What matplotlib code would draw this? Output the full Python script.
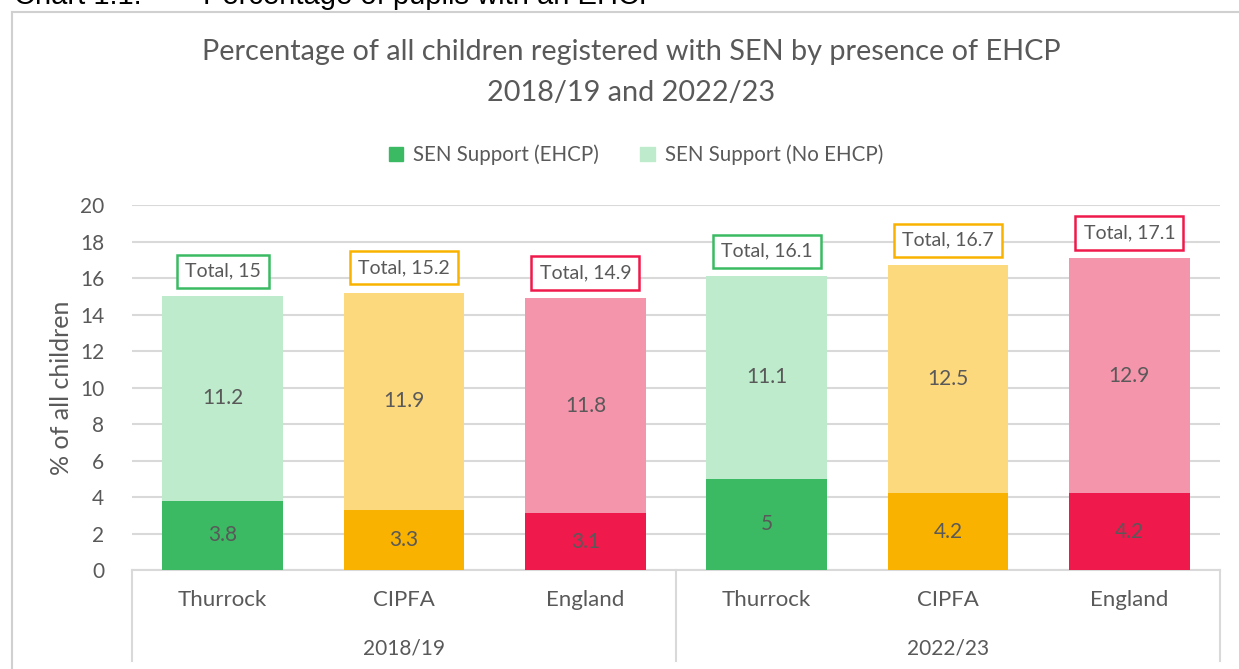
import matplotlib.pyplot as plt
from matplotlib.patches import Rectangle
from matplotlib.lines import Line2D

# data
areas = ['Thurrock', 'CIPFA', 'England', 'Thurrock', 'CIPFA', 'England']
years = ['2018/19', '2022/23']
ehcp = [3.8, 3.3, 3.1, 5, 4.2, 4.2]
no_ehcp = [11.2, 11.9, 11.8, 11.1, 12.5, 12.9]
totals = ['15', '15.2', '14.9', '16.1', '16.7', '17.1']

dark = ['#3BBA63', '#F9B200', '#EF1A4B'] * 2
light = ['#BDEBCB', '#FDD97E', '#F595AC'] * 2
txt = '#595959'
grid_c = '#D9D9D9'

plt.rcParams['font.family'] = ['Lato', 'DejaVu Sans']

fig = plt.figure(figsize=(12.39, 6.69), dpi=100)
ax = fig.add_axes([132 / 1239, 1 - 570 / 669, 1088 / 1239, 365 / 669])

x = list(range(len(areas)))
w = 0.667
ax.bar(x, ehcp, width=w, color=dark, zorder=3)
ax.bar(x, no_ehcp, width=w, bottom=ehcp, color=light, zorder=3)

for i in x:
    ax.text(i, ehcp[i] / 2, f'{ehcp[i]:g}', ha='center', va='center',
            fontsize=15, color=txt, zorder=4)
    ax.text(i, ehcp[i] + no_ehcp[i] / 2, f'{no_ehcp[i]:g}', ha='center',
            va='center', fontsize=15, color=txt, zorder=4)
    top = ehcp[i] + no_ehcp[i]
    ax.annotate(f'Total, {totals[i]}', (i, top), xytext=(0, 18),
                textcoords='offset points', ha='center', va='center',
                fontsize=14, color=txt, zorder=5,
                bbox=dict(boxstyle='square,pad=0.42', fc='white',
                          ec=dark[i], lw=1.8))

ax.set_xlim(-0.5, 5.5)
ax.set_ylim(0, 20)
ax.set_yticks(range(0, 21, 2))
ax.tick_params(axis='y', length=0, labelsize=15, labelcolor=txt, pad=20)
ax.set_xticks([])
ax.grid(axis='y', color=grid_c, lw=1.5, zorder=0)
for s in ['top', 'right', 'left']:
    ax.spines[s].set_visible(False)
ax.spines['bottom'].set_color(grid_c)
ax.spines['bottom'].set_linewidth(1.5)
ax.set_ylabel('% of all children', fontsize=18, color=txt, labelpad=5)

# category axis
tr = ax.get_xaxis_transform()
for i in x:
    ax.text(i, -0.082, areas[i], transform=tr, ha='center', va='center',
            fontsize=16, color=txt)
for j, yr in enumerate(years):
    ax.text(1 + 3 * j, -0.214, yr, transform=tr, ha='center', va='center',
            fontsize=15, color=txt)
for xs in [-0.5, 2.5, 5.5]:
    ax.add_line(Line2D([xs, xs], [0, -0.25], transform=tr, color=grid_c,
                       lw=1.5, clip_on=False))

# legend
handles = [Rectangle((0, 0), 1, 1, color=dark[0]),
           Rectangle((0, 0), 1, 1, color=light[0])]
fig.legend(handles, ['SEN Support (EHCP)', 'SEN Support (No EHCP)'],
           loc='center', bbox_to_anchor=(636 / 1239, 1 - 155 / 669), ncol=2,
           frameon=False, fontsize=14.8, labelcolor=txt, handlelength=0.7,
           handleheight=0.7, columnspacing=2.0, handletextpad=0.5)

fig.text(631 / 1239, 1 - 52 / 669, 'Percentage of all children registered with SEN by presence of EHCP',
         ha='center', va='center', fontsize=20.8, color=txt)
fig.text(631 / 1239, 1 - 93 / 669, '2018/19 and 2022/23',
         ha='center', va='center', fontsize=20.8, color=txt)

# outer frame and heading clipped at the top edge
fig.add_artist(Line2D([12 / 1239, 12 / 1239], [0, 1 - 12 / 669],
                      transform=fig.transFigure, color='#D0D0D0', lw=1.5))
fig.add_artist(Line2D([12 / 1239, 1], [1 - 12 / 669, 1 - 12 / 669],
                      transform=fig.transFigure, color='#D0D0D0', lw=1.5))
head = ['Liberation Sans', 'DejaVu Sans']
fig.text(14 / 1239, 1 - 4 / 669, 'Chart 1.1:', ha='left', va='baseline',
         fontsize=21, color='black', family=head)
fig.text(203 / 1239, 1 - 4 / 669, 'Percentage of pupils with an EHCP',
         ha='left', va='baseline', fontsize=21, color='black', family=head)

fig.savefig('out.png', dpi=100)
